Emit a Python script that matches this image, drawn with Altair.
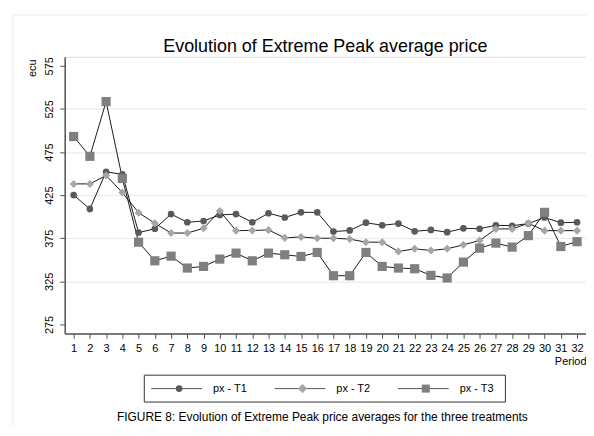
import altair as alt
import pandas as pd

periods = list(range(1, 33))
series_names = ["px - T1", "px - T2", "px - T3"]
t1 = [425, 409, 452, 449, 381.5, 386, 403, 393.5, 395, 402, 403, 393.5, 404, 399, 405, 405,
      382.7, 384, 393, 390, 392, 383, 384.6, 382, 386.5, 386, 390, 389.5, 392, 399, 393, 393.5]
t2 = [438, 438, 447.7, 428, 404.6, 392.3, 381, 381, 386.5, 406.5, 383.8, 384, 384.6, 375.4, 376.5, 375,
      375, 374, 370.4, 370.4, 359.6, 362.7, 360.8, 362.7, 367.3, 372.3, 385.8, 385.8, 392.3, 383.8, 383.8, 383.8]
t3 = [493, 470, 533.5, 444.3, 370.4, 348.8, 354.2, 340.4, 342.3, 350.8, 357.7, 348.8, 357.7, 355.8, 353.8, 358.5,
      331.5, 331.5, 358.5, 342.3, 340.4, 339.6, 331.9, 328.9, 347.3, 363.5, 369.3, 364.7, 378, 405, 365.4, 371]
y_ticks = [275, 325, 375, 425, 475, 525, 575]
title_text = "Evolution of Extreme Peak average price"
caption = "FIGURE 8: Evolution of Extreme Peak price averages for the three treatments"

FONT = "Liberation Sans"
colors = ["#5a5a5a", "#a6a6a6", "#7f7f7f"]
shapes = ["circle", "diamond", "square"]
sizes = [45, 85, 65]

rows = []
for name, vals in zip(series_names, [t1, t2, t3]):
    for p, v in zip(periods, vals):
        rows.append({"period": p, "value": v, "series": name})
df = pd.DataFrame(rows)

W, H = 524, 278
xscale = alt.Scale(domain=[0.45, 32.55], nice=False, zero=False)
yscale = alt.Scale(domain=[264.6, 585.4], nice=False, zero=False)
color_scale = alt.Scale(domain=series_names, range=colors)
shape_scale = alt.Scale(domain=series_names, range=shapes)

xaxis = alt.Axis(values=periods, title="Period", grid=False, tickSize=5,
                 labelFontSize=11, labelFont=FONT, labelColor="#000",
                 labelOverlap=False, labelAngle=0,
                 domainColor="#555", tickColor="#555", domainWidth=1.5,
                 labelPadding=4, labelFlush=False,
                 titleFont=FONT, titleFontSize=11, titleFontWeight="normal",
                 titleColor="#000", titleX=W, titleY=28, titleAlign="right",
                 titleBaseline="middle")
yaxis = alt.Axis(values=y_ticks, title="ecu", grid=True, tickSize=5,
                 gridColor="#e8e8e8",
                 gridOpacity={"condition": {"test": "datum.value > 300 && datum.value < 550", "value": 1}, "value": 0},
                 labelAngle=270, labelFontSize=11, labelFont=FONT,
                 labelOverlap=False,
                 labelColor="#000", domainColor="#555", tickColor="#555",
                 domainWidth=1.5, labelPadding=5, labelFlush=False,
                 titleFont=FONT, titleFontSize=11, titleFontWeight="normal",
                 titleColor="#000", titleAngle=270, titleX=-32, titleY=11,
                 titleAlign="center", titleBaseline="middle")

one = pd.DataFrame({"a": [0]})

frame = alt.Chart(one).mark_rect(
    fill=None, stroke="#ececec", strokeWidth=1
).encode(x=alt.value(-52), x2=alt.value(700), y=alt.value(-42), y2=alt.value(700))

lines = alt.Chart(df).mark_line(color="#1a1a1a", strokeWidth=1).encode(
    x=alt.X("period:Q", scale=xscale, axis=xaxis),
    y=alt.Y("value:Q", scale=yscale, axis=yaxis),
    detail="series:N",
)

points = alt.Chart(df).mark_point(filled=True, opacity=1).encode(
    x=alt.X("period:Q", scale=xscale, axis=xaxis),
    y=alt.Y("value:Q", scale=yscale, axis=yaxis),
    color=alt.Color("series:N", scale=color_scale, legend=None),
    shape=alt.Shape("series:N", scale=shape_scale, legend=None),
    size=alt.Size("series:N", scale=alt.Scale(domain=series_names, range=sizes), legend=None),
    order=alt.Order("series:N"),
)

# custom legend (drawn item by item)
leg_box = alt.Chart(one).mark_rect(
    fill="white", stroke="#333", strokeWidth=1
).encode(x=alt.value(80), x2=alt.value(443), y=alt.value(320), y2=alt.value(347))

legend_layers = [leg_box]
LY = 333.5
for i, name in enumerate(series_names):
    off = 124 * i
    legend_layers.append(
        alt.Chart(one).mark_rule(color="#555", strokeWidth=1).encode(
            x=alt.value(87 + off), x2=alt.value(138 + off), y=alt.value(LY))
    )
    legend_layers.append(
        alt.Chart(one).mark_point(filled=True, opacity=1, shape=shapes[i],
                                  color=colors[i], size=sizes[i]).encode(
            x=alt.value(115 + off), y=alt.value(LY))
    )
    legend_layers.append(
        alt.Chart(one).mark_text(align="left", baseline="middle", font=FONT,
                                 fontSize=11, color="#000", text=name).encode(
            x=alt.value(149 + off), y=alt.value(LY))
    )

cap = alt.Chart(one).mark_text(
    align="center", baseline="middle", font=FONT, fontSize=12, color="#000", text=caption
).encode(x=alt.value(259), y=alt.value(362))

ttl = alt.Chart(one).mark_text(
    align="center", baseline="alphabetic", font=FONT, fontSize=18, color="#000", text=title_text
).encode(x=alt.value(262), y=alt.value(-5))

chart = alt.layer(
    frame, lines, points, *legend_layers, cap, ttl
).properties(
    width=W, height=H,
    autosize=alt.AutoSizeParams(type="none"),
    padding={"left": 57, "top": 48, "right": 0, "bottom": 92},
).configure_view(stroke=None).configure(background="white")

chart.save("out.html", embed_options={"renderer": "svg", "actions": False})
